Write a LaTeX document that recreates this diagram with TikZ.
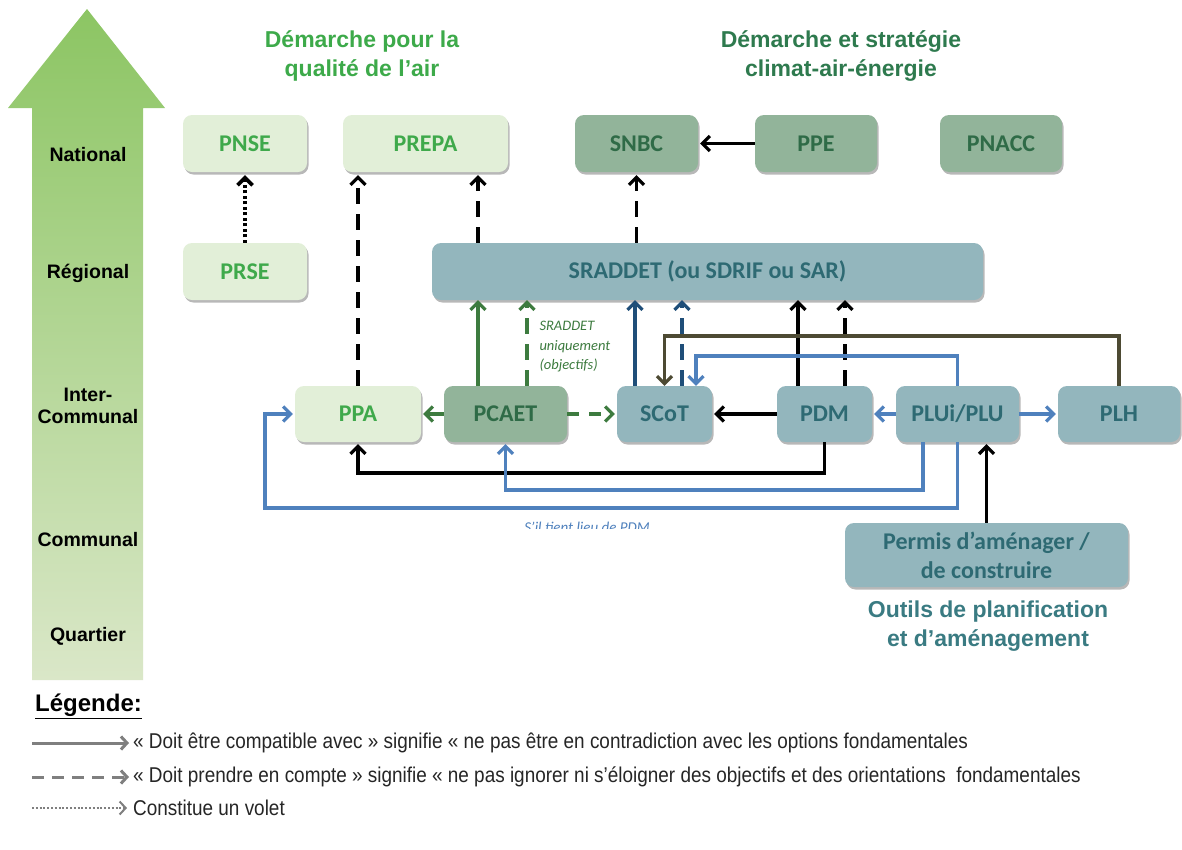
\documentclass[tikz,border=0pt]{standalone}
\usepackage{fontspec}
\setmainfont{Liberation Sans}
\newfontfamily\calib{Carlito}
\usetikzlibrary{arrows.meta,shadows,calc}
\definecolor{lgfill}{HTML}{E2EFD8}
\definecolor{lgtext}{HTML}{3FA94B}
\definecolor{dgfill}{HTML}{92B49A}
\definecolor{dgtext}{HTML}{2F6B47}
\definecolor{bgfill}{HTML}{93B6BD}
\definecolor{bgtext}{HTML}{2E6A73}
\definecolor{headA}{HTML}{3DAA4A}
\definecolor{headB}{HTML}{2E7A4E}
\definecolor{outil}{HTML}{3A7B82}
\definecolor{grnline}{HTML}{3D7B3F}
\definecolor{dbline}{HTML}{1F4E79}
\definecolor{mbline}{HTML}{4F81BD}
\definecolor{olline}{HTML}{4D4A33}
\definecolor{leggray}{HTML}{7F7F7F}
\definecolor{arrtop}{HTML}{8CC563}
\definecolor{arrmid}{HTML}{B9D8A2}
\definecolor{arrbot}{HTML}{DAE7C8}
\begin{document}
\begin{tikzpicture}[x=1pt,y=-1pt,
  box/.style={rounded corners=9pt, minimum height=57pt, inner sep=0pt,
    font=\calib\bfseries\fontsize{24}{27}\selectfont, align=center,
    drop shadow={shadow xshift=1.5pt, shadow yshift=-2.5pt, opacity=0.28, fill=black}},
  lgbox/.style={box, fill=lgfill, text=lgtext},
  dgbox/.style={box, fill=dgfill, text=dgtext},
  bgbox/.style={box, fill=bgfill, text=bgtext},
  conn/.style={line width=3.2pt, -{Straight Barb[length=7.5pt,width=15pt]}},
  blk/.style={conn, draw=black},
  grn/.style={conn, draw=grnline},
  dbl/.style={conn, draw=dbline},
  mbl/.style={conn, draw=mbline},
  oll/.style={conn, draw=olline},
  dashln/.style={dash pattern=on 16pt off 10pt},
  shortdash/.style={dash pattern=on 12pt off 10pt},
  dotln/.style={dash pattern=on 3pt off 2.5pt},
  lvl/.style={font=\bfseries\fontsize{19.5}{21.5}\selectfont, align=center, text=black},
  heading/.style={font=\bfseries\fontsize{23}{29}\selectfont, align=center},
  legtxt/.style={anchor=west, font=\fontsize{21.4}{24}\selectfont, text=black!85, inner sep=0pt},
  legarr/.style={line width=3pt, draw=leggray, -{Straight Barb[length=6pt,width=13pt]}},
  ital/.style={font=\calib\itshape\fontsize{14.5}{19.5}\selectfont}
]
\useasboundingbox[fill=white] (0,0) rectangle (1182,849);

% big level arrow
\shade[top color=arrtop, middle color=arrmid, bottom color=arrbot]
  (32,680) -- (32,108) -- (8,108) -- (87,9) -- (165,108) -- (143,108) -- (143,680) -- cycle;
\node[lvl] (lnat) at (88,155) {National};
\node[lvl] (lreg) at (88,273) {Régional};
\node[lvl] (linter) at (88,406) {Inter-\\Communal};
\node[lvl] (lcom) at (88,540) {Communal};
\node[lvl] (lqua) at (88,636) {Quartier};

% headings
\node[heading, text=headA] (h1) at (362,56) {Démarche pour la\\qualité de l’air};
\node[heading, text=headB] (h2) at (841,56) {Démarche et stratégie\\climat-air-énergie};
\node[heading, text=outil] (h3) at (988,626) {Outils de planification\\et d’aménagement};

% boxes
\node[lgbox, minimum width=124pt] (pnse) at (245,143.5) {PNSE};
\node[lgbox, minimum width=165pt] (prepa) at (425.5,143.5) {PREPA};
\node[lgbox, minimum width=124pt] (prse) at (245,271.5) {PRSE};
\node[dgbox, minimum width=123pt] (snbc) at (636.5,143.5) {SNBC};
\node[dgbox, minimum width=122pt] (ppe) at (816,143.5) {PPE};
\node[dgbox, minimum width=122pt] (pnacc) at (1001,143.5) {PNACC};
\node[bgbox, minimum width=551pt] (sraddet) at (707.5,271.5) {SRADDET (ou SDRIF ou SAR)};
\node[lgbox, minimum width=126pt, minimum height=56pt] (ppa) at (358,414) {PPA};
\node[dgbox, minimum width=123pt, minimum height=56pt] (pcaet) at (505.5,414) {PCAET};
\node[bgbox, minimum width=95pt, minimum height=56pt] (scot) at (664.5,414) {SCoT};
\node[bgbox, minimum width=95pt, minimum height=56pt] (pdm) at (824.5,414) {PDM};
\node[bgbox, minimum width=123pt, minimum height=56pt] (plu) at (957.5,414) {PLUi/PLU};
\node[bgbox, minimum width=122pt, minimum height=56pt] (plh) at (1119,414) {PLH};
\node[bgbox, minimum width=283pt, minimum height=64pt, font=\calib\bfseries\fontsize{24}{29}\selectfont] (permis) at (986.5,555) {Permis d’aménager /\\de construire};

% connectors
\draw[blk, line width=3.6pt, dotln, shorten >=3pt] (prse) -- (pnse);
\draw[blk, dashln, shorten >=3pt] (ppa.north) -- (ppa.north |- prepa.south);
\draw[blk, dashln, shorten >=3pt] (sraddet.north -| 478,0) -- (prepa.south -| 478,0);
\draw[blk, dashln, shorten >=3pt] (sraddet.north -| snbc.south) -- (snbc.south);
\draw[blk, shorten >=2pt] (ppe) -- (snbc);

\draw[grn] (pcaet.north -| 478,0) -- (sraddet.south -| 478,0);
\draw[grn, dashln] (pcaet.north -| 527,0) -- (sraddet.south -| 527,0);
\node[ital, text=grnline, anchor=west, align=left] (srlbl) at (536,347) {SRADDET\\uniquement\\(objectifs)};

\draw[dbl] (scot.north -| 635,0) -- (sraddet.south -| 635,0);
\draw[dbl, dashln] (scot.north -| 682,0) -- (sraddet.south -| 682,0);
\draw[blk] (pdm.north -| 798,0) -- (sraddet.south -| 798,0);
\draw[blk, dashln] (pdm.north -| 845,0) -- (sraddet.south -| 845,0);

\draw[oll] (plh.north) |- (664.5,336) -- (scot.north);
\draw[mbl] (plu.north) |- (696,356) -- (scot.north -| 696,0);

\draw[blk, shorten >=2pt] (pdm) -- (scot);
\draw[mbl, shorten >=2pt] (plu) -- (pdm);
\draw[mbl, shorten >=2pt] (plu) -- (plh);
\draw[grn, shorten >=2pt] (pcaet) -- (ppa);
\draw[grn, shortdash, shorten >=2pt] (pcaet) -- (scot);

\draw[blk, shorten >=2pt] (pdm.south) |- (358,473) -- (ppa.south);
\draw[mbl, shorten >=2pt] (plu.south -| 923,0) |- (505.5,490) -- (pcaet.south);
\draw[mbl, shorten >=2pt] (plu.south) |- (265,508) |- (ppa.west);
\begin{scope}
\clip (400,500) rectangle (760,528.5);
\node[ital, font=\calib\itshape\fontsize{15}{18}\selectfont, text=mbline] (tlbl) at (587,527) {S’il tient lieu de PDM};
\end{scope}

\draw[blk, shorten >=2pt] (permis.north) -- (permis.north |- plu.south);

% legend
\node[anchor=west, inner sep=0pt, font=\bfseries\fontsize{24}{26}\selectfont] (leg) at (35,706) {\underline{Légende:}};
\coordinate (la1) at (32,743); \coordinate (lb1) at (129,743);
\coordinate (la2) at (32,777); \coordinate (lb2) at (129,777);
\coordinate (la3) at (32,808); \coordinate (lb3) at (127,808);
\draw[legarr] (la1) -- (lb1);
\draw[legarr, dash pattern=on 12pt off 8pt] (la2) -- (lb2);
\draw[legarr, line width=2pt, dash pattern=on 2pt off 1.8pt] (la3) -- (lb3);
\node[legtxt] (lt1) at (133,743) {\scalebox{0.885}[1]{« Doit être compatible avec » signifie « ne pas être en contradiction avec les options fondamentales}};
\node[legtxt] (lt2) at (133,777) {\scalebox{0.885}[1]{« Doit prendre en compte » signifie « ne pas ignorer ni s’éloigner des objectifs et des orientations\ \ fondamentales}};
\node[legtxt] (lt3) at (133,808) {\scalebox{0.885}[1]{Constitue un volet}};
\end{tikzpicture}
\end{document}
